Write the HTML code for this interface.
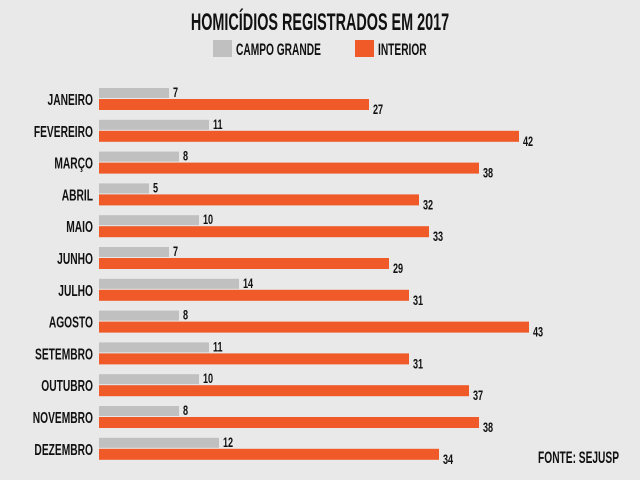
<!DOCTYPE html>
<html><head><meta charset="utf-8"><style>
html,body{margin:0;padding:0;background:#e9e9e9;}
svg{display:block;}
text{font-family:"Liberation Sans Narrow","Liberation Sans",sans-serif;font-weight:bold;fill:#111;}
</style></head><body>
<svg id="chart" width="640" height="480" viewBox="0 0 640 480">
<rect width="640" height="480" fill="#e9e9e9"/>
<text x="320" y="30" text-anchor="middle" font-size="24" transform="translate(320,0) scale(0.6,1) translate(-320,0)">HOMICÍDIOS REGISTRADOS EM 2017</text>
<rect x="213" y="40" width="19" height="17" fill="#c0c0c0"/>
<text x="236" y="55" font-size="17" transform="translate(236,0) scale(0.6,1) translate(-236,0)">CAMPO GRANDE</text>
<rect x="355" y="40" width="19" height="17" fill="#f05a28"/>
<text x="378" y="55" font-size="17" transform="translate(378,0) scale(0.6,1) translate(-378,0)">INTERIOR</text>
<text x="619" y="463" text-anchor="end" font-size="17" transform="translate(619,0) scale(0.6,1) translate(-619,0)">FONTE: SEJUSP</text>
<g id="bars"></g>
</svg>
<script>
const months = ["JANEIRO","FEVEREIRO","MARÇO","ABRIL","MAIO","JUNHO","JULHO","AGOSTO","SETEMBRO","OUTUBRO","NOVEMBRO","DEZEMBRO"];
const campoGrande = [7,11,8,5,10,7,14,8,11,10,8,12];
const interior = [27,42,38,32,33,29,31,43,31,37,38,34];

const ns = "http://www.w3.org/2000/svg";
const g = document.getElementById("bars");
const x0 = 99, pxPerUnit = 10;
function xScale(v){ return x0 + v * pxPerUnit; }
function rowY(i){ return 88 + i * 31.8; }
function narrowText(x, y, str, size, anchor, sx){
  const t = document.createElementNS(ns, "text");
  t.setAttribute("x", x); t.setAttribute("y", y);
  t.setAttribute("font-size", size);
  t.setAttribute("text-anchor", anchor);
  t.setAttribute("transform", `translate(${x},0) scale(${sx},1) translate(${-x},0)`);
  t.textContent = str;
  return t;
}
months.forEach((m, i) => {
  const y = rowY(i);
  const lab = narrowText(93, y + 17, m, 16, "end", 0.64);
  
  
  g.appendChild(lab);

  const b1 = document.createElementNS(ns, "rect");
  b1.setAttribute("x", x0); b1.setAttribute("y", y);
  b1.setAttribute("width", xScale(campoGrande[i]) - x0); b1.setAttribute("height", 10);
  b1.setAttribute("fill", "#c0c0c0");
  
  
  g.appendChild(b1);
  const v1 = narrowText(xScale(campoGrande[i]) + 4, y + 9, String(campoGrande[i]), 14, "start", 0.65);
  
  
  g.appendChild(v1);

  const b2 = document.createElementNS(ns, "rect");
  b2.setAttribute("x", x0); b2.setAttribute("y", y + 11);
  b2.setAttribute("width", xScale(interior[i]) - x0); b2.setAttribute("height", 11);
  b2.setAttribute("fill", "#f05a28");
  
  
  g.appendChild(b2);
  const v2 = narrowText(xScale(interior[i]) + 4, y + 26, String(interior[i]), 14, "start", 0.65);
  
  
  g.appendChild(v2);
});
</script>
</body></html>
